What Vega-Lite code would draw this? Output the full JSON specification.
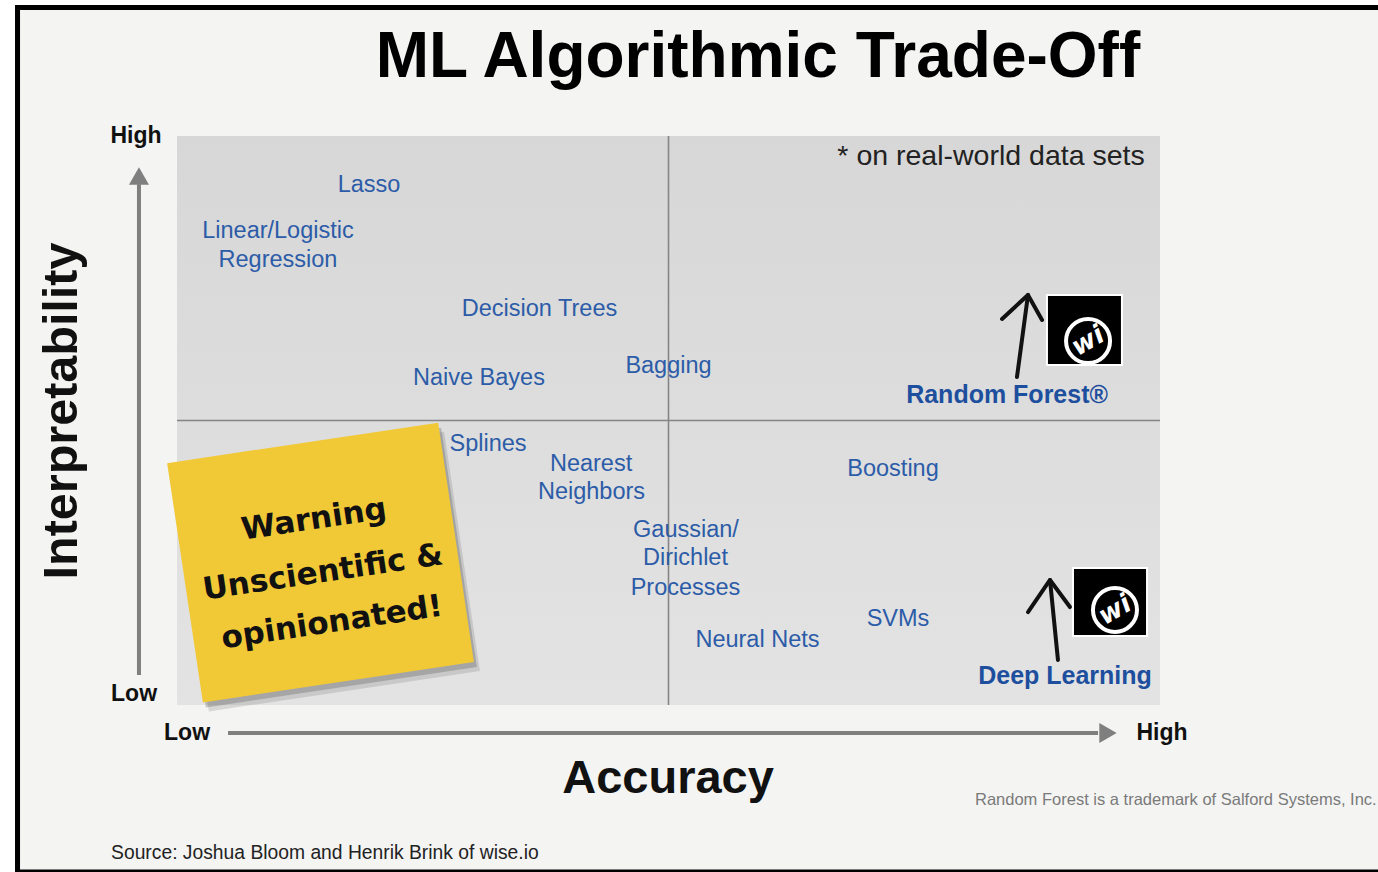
{
  "$schema": "https://vega.github.io/schema/vega-lite/v6.json",
  "width": 1378,
  "height": 872,
  "padding": 0,
  "autosize": {"type": "none"},
  "background": "#ffffff",
  "config": {"view": {"stroke": null}},
  "datasets": {
    "frame": [{"x": -1.648, "x2": 12.2177, "y": -2.935, "y2": 12.302}],
    "panel": [{"x": -1.597, "x2": 12.2177, "y": -2.891, "y2": 12.214}],
    "plotbox": [{"x": 0, "x2": 10, "y": 0, "y2": 10}],
    "quadrants": [{"x": 5, "x2": 5, "y": 0, "y2": 10}, {"x": 0, "x2": 10, "y": 5, "y2": 5}],
    "axisLines": [{"x": -0.387, "x2": -0.387, "y": 0.527, "y2": 9.15}, {"x": 0.519, "x2": 9.37, "y": -0.492, "y2": -0.492}],
    "headUp": [{"x": -0.387, "y": 9.297}],
    "headRight": [{"x": 9.471, "y": -0.492}],
    "title": [{"x": 5.91, "y": 11.362, "text": "ML Algorithmic Trade-Off"}],
    "axisEnds": [
      {"x": -0.417, "y": 10.0, "text": "High"},
      {"x": -0.437, "y": 0.193, "text": "Low"},
      {"x": 0.102, "y": -0.492, "text": "Low"},
      {"x": 10.02, "y": -0.492, "text": "High"}
    ],
    "xTitle": [{"x": 4.995, "y": -1.301, "text": "Accuracy"}],
    "yTitle": [{"x": -1.17, "y": 5.167, "text": "Interpretability"}],
    "algorithms": [
      {"x": 1.953, "y": 9.139, "text": "Lasso"},
      {"x": 1.027, "y": 8.33, "text": "Linear/Logistic"},
      {"x": 1.027, "y": 7.821, "text": "Regression"},
      {"x": 3.688, "y": 6.968, "text": "Decision Trees"},
      {"x": 3.072, "y": 5.747, "text": "Naive Bayes"},
      {"x": 5.0, "y": 5.949, "text": "Bagging"},
      {"x": 3.164, "y": 4.587, "text": "Splines"},
      {"x": 4.212, "y": 4.227, "text": "Nearest"},
      {"x": 4.217, "y": 3.735, "text": "Neighbors"},
      {"x": 7.284, "y": 4.148, "text": "Boosting"},
      {"x": 5.178, "y": 3.076, "text": "Gaussian/"},
      {"x": 5.173, "y": 2.575, "text": "Dirichlet"},
      {"x": 5.173, "y": 2.056, "text": "Processes"},
      {"x": 7.335, "y": 1.511, "text": "SVMs"},
      {"x": 5.905, "y": 1.151, "text": "Neural Nets"}
    ],
    "highlights": [
      {"x": 8.444, "y": 5.448, "text": "Random Forest®"},
      {"x": 9.034, "y": 0.501, "text": "Deep Learning"}
    ],
    "footnote": [{"x": 8.281, "y": 9.649, "text": "* on real-world data sets"}],
    "logos": [
      {"x": 8.85, "x2": 9.613, "y": 5.975, "y2": 7.206},
      {"x": 9.115, "x2": 9.868, "y": 1.213, "y2": 2.408}
    ],
    "logoRings": [{"x": 9.268, "y": 6.397}, {"x": 9.542, "y": 1.67}],
    "pens": [
      {"seg": "rf-stem", "ord": 1, "x": 8.545, "y": 5.764},
      {"seg": "rf-stem", "ord": 2, "x": 8.657, "y": 7.206},
      {"seg": "rf-head", "ord": 1, "x": 8.393, "y": 6.784},
      {"seg": "rf-head", "ord": 2, "x": 8.657, "y": 7.206},
      {"seg": "rf-head", "ord": 3, "x": 8.8, "y": 6.766},
      {"seg": "dl-stem", "ord": 1, "x": 8.962, "y": 0.791},
      {"seg": "dl-stem", "ord": 2, "x": 8.881, "y": 2.197},
      {"seg": "dl-head", "ord": 1, "x": 8.657, "y": 1.634},
      {"seg": "dl-head", "ord": 2, "x": 8.881, "y": 2.197},
      {"seg": "dl-head", "ord": 3, "x": 9.084, "y": 1.722}
    ],
    "sticky": [{"x": 1.46, "y": 2.504}],
    "stickyText": [
      {"x": 1.394, "y": 3.251, "text": "Warning"},
      {"x": 1.485, "y": 2.32, "text": "Unscientific &"},
      {"x": 1.577, "y": 1.441, "text": "opinionated!"}
    ],
    "source": [{"x": -0.671, "y": -2.601, "text": "Source: Joshua Bloom and Henrik Brink of wise.io"}],
    "trademark": [{"x": 8.118, "y": -1.67, "text": "Random Forest is a trademark of Salford Systems, Inc."}]
  },
  "encoding": {
    "x": {"field": "x", "type": "quantitative", "axis": null, "scale": {"domain": [-1.8007, 12.2177], "zero": false, "nice": false}},
    "y": {"field": "y", "type": "quantitative", "axis": null, "scale": {"domain": [-2.935, 12.39], "zero": false, "nice": false}}
  },
  "layer": [
    {"data": {"name": "frame"}, "mark": {"type": "rect", "color": "#000000"}, "encoding": {"x2": {"field": "x2"}, "y2": {"field": "y2"}}},
    {"data": {"name": "panel"}, "mark": {"type": "rect", "color": "#f4f4f3"}, "encoding": {"x2": {"field": "x2"}, "y2": {"field": "y2"}}},
    {"data": {"name": "plotbox"}, "mark": {"type": "rect", "color": {"gradient": "linear", "x1": 0, "y1": 0, "x2": 0, "y2": 1, "stops": [{"offset": 0, "color": "#d7d7d7"}, {"offset": 1, "color": "#e3e3e3"}]}}, "encoding": {"x2": {"field": "x2"}, "y2": {"field": "y2"}}},
    {"data": {"name": "quadrants"}, "mark": {"type": "rule", "color": "#858585", "strokeWidth": 1.6}, "encoding": {"x2": {"field": "x2"}, "y2": {"field": "y2"}}},
    {"data": {"name": "axisLines"}, "mark": {"type": "rule", "color": "#7f7f7f", "strokeWidth": 4}, "encoding": {"x2": {"field": "x2"}, "y2": {"field": "y2"}}},
    {"data": {"name": "headUp"}, "mark": {"type": "point", "shape": "triangle-up", "size": 400, "filled": true, "color": "#7f7f7f", "opacity": 1}},
    {"data": {"name": "headRight"}, "mark": {"type": "point", "shape": "triangle-right", "size": 400, "filled": true, "color": "#7f7f7f", "opacity": 1}},
    {"data": {"name": "title"}, "mark": {"type": "text", "font": "Liberation Sans", "fontWeight": "bold", "fontSize": 64, "color": "#000000", "align": "center", "baseline": "middle"}, "encoding": {"text": {"field": "text"}}},
    {"data": {"name": "axisEnds"}, "mark": {"type": "text", "font": "Liberation Sans", "fontWeight": "bold", "fontSize": 23, "color": "#111111", "align": "center", "baseline": "middle"}, "encoding": {"text": {"field": "text"}}},
    {"data": {"name": "xTitle"}, "mark": {"type": "text", "font": "Liberation Sans", "fontWeight": "bold", "fontSize": 47, "color": "#111111", "align": "center", "baseline": "middle"}, "encoding": {"text": {"field": "text"}}},
    {"data": {"name": "yTitle"}, "mark": {"type": "text", "font": "Liberation Sans", "fontWeight": "bold", "fontSize": 48.5, "color": "#111111", "align": "center", "baseline": "middle", "angle": 270}, "encoding": {"text": {"field": "text"}}},
    {"data": {"name": "algorithms"}, "mark": {"type": "text", "font": "Liberation Sans", "fontSize": 23.5, "color": "#2c5ca8", "align": "center", "baseline": "middle"}, "encoding": {"text": {"field": "text"}}},
    {"data": {"name": "highlights"}, "mark": {"type": "text", "font": "Liberation Sans", "fontWeight": "bold", "fontSize": 25, "color": "#1d4f9e", "align": "center", "baseline": "middle"}, "encoding": {"text": {"field": "text"}}},
    {"data": {"name": "footnote"}, "mark": {"type": "text", "font": "Liberation Sans", "fontSize": 28.5, "color": "#222222", "align": "center", "baseline": "middle"}, "encoding": {"text": {"field": "text"}}},
    {"data": {"name": "logos"}, "mark": {"type": "rect", "color": "#000000", "stroke": "#ffffff", "strokeWidth": 2}, "encoding": {"x2": {"field": "x2"}, "y2": {"field": "y2"}}},
    {"data": {"name": "logoRings"}, "mark": {"type": "point", "shape": "circle", "size": 1936, "filled": false, "stroke": "#ffffff", "strokeWidth": 4, "opacity": 1}},
    {"data": {"name": "logoRings"}, "mark": {"type": "text", "font": "DejaVu Sans", "fontWeight": "bold", "fontStyle": "italic", "fontSize": 26, "color": "#ffffff", "align": "center", "baseline": "middle", "angle": -30}, "encoding": {"text": {"value": "wi"}}},
    {"data": {"name": "pens"}, "mark": {"type": "line", "color": "#111111", "strokeWidth": 4, "strokeCap": "round", "strokeJoin": "round"}, "encoding": {"detail": {"field": "seg"}, "order": {"field": "ord"}}},
    {"data": {"name": "sticky"}, "mark": {"type": "point", "shape": "M-1,-0.883L1,-0.883L1,0.883L-1,0.883Z", "size": 75076, "angle": -8.5, "filled": true, "color": "#555555", "opacity": 0.18, "xOffset": 6, "yOffset": 9}},
    {"data": {"name": "sticky"}, "mark": {"type": "point", "shape": "M-1,-0.883L1,-0.883L1,0.883L-1,0.883Z", "size": 75076, "angle": -8.5, "filled": true, "color": "#555555", "opacity": 0.3, "xOffset": 3, "yOffset": 5}},
    {"data": {"name": "sticky"}, "mark": {"type": "point", "shape": "M-1,-0.883L1,-0.883L1,0.883L-1,0.883Z", "size": 75076, "angle": -8.5, "filled": true, "color": "#f1c836", "opacity": 1}},
    {"data": {"name": "stickyText"}, "mark": {"type": "text", "font": "DejaVu Sans", "fontWeight": "bold", "fontSize": 31, "color": "#111111", "align": "center", "baseline": "middle", "angle": -8.5}, "encoding": {"text": {"field": "text"}}},
    {"data": {"name": "source"}, "mark": {"type": "text", "font": "Liberation Sans", "fontSize": 19.3, "color": "#222222", "align": "left", "baseline": "middle"}, "encoding": {"text": {"field": "text"}}},
    {"data": {"name": "trademark"}, "mark": {"type": "text", "font": "Liberation Sans", "fontSize": 16.5, "color": "#7a7a7a", "align": "left", "baseline": "middle"}, "encoding": {"text": {"field": "text"}}}
  ]
}
